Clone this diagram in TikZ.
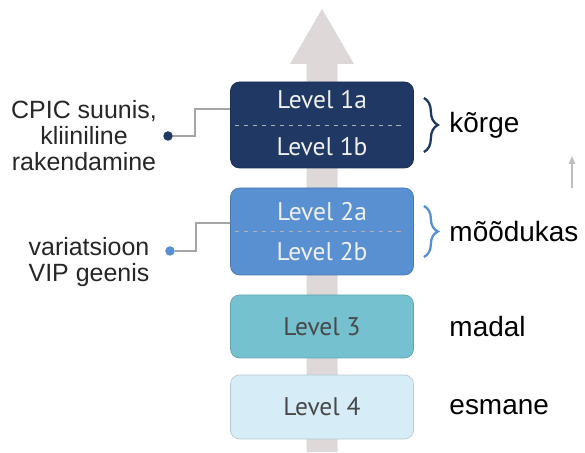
\documentclass[tikz,border=0pt]{standalone}
\usepackage{fontspec}
\setmainfont{Liberation Sans}
\newfontfamily\levelfont{PT Sans}
\usetikzlibrary{arrows.meta,positioning,decorations.pathreplacing}
\definecolor{levelnavy}{RGB}{31,56,100}
\definecolor{levelblue}{RGB}{88,144,210}
\definecolor{levelteal}{RGB}{117,193,207}
\definecolor{levellight}{RGB}{214,236,247}
\definecolor{arrowgray}{RGB}{222,216,217}
\definecolor{conngray}{RGB}{165,165,165}
\definecolor{textgray}{RGB}{72,72,72}

\begin{document}
\begin{tikzpicture}[>=Stealth,
  levelbox/.style={rectangle, rounded corners=0.18cm, minimum width=3.66cm, inner sep=0pt},
  leveltext/.style={font=\levelfont\fontsize{14.5}{17}\selectfont, inner sep=1pt},
  sidelabel/.style={align=center, font=\fontsize{14.2}{14.8}\selectfont, text=black!85},
  ranklabel/.style={font=\fontsize{15.9}{19}\selectfont, inner sep=3pt},
  dotnode/.style={circle, inner sep=0pt, minimum size=0.19cm},
  conn/.style={conngray, line width=0.8pt},
  rankbrace/.style={decorate, decoration={brace, amplitude=0.28cm}, line width=1.3pt},
  splitline/.style={white!70!black, line width=0.5pt, dash pattern=on 2.3pt off 2.8pt}]
\useasboundingbox (0,0) rectangle (11.7,9.04);
% background arrow
\fill[arrowgray] (6.13,0) -- (6.13,7.76) -- (5.8,7.76) -- (6.44,8.86)
   -- (7.08,7.76) -- (6.75,7.76) -- (6.75,0) -- cycle;
% level boxes
\foreach \nm/\y/\h/\col in {lvlone/6.54/1.72/levelnavy, lvltwo/4.41/1.74/levelblue,
    lvlthree/2.51/1.26/levelteal, lvlfour/0.90/1.28/levellight}{
  \node[levelbox, fill=\col, draw=\col!85!black, minimum height=\h cm] (\nm) at (6.44,\y) {};
}
\draw[splitline] ([xshift=0.1cm]lvlone.west) -- ([xshift=-0.2cm]lvlone.east);
\draw[splitline] ([xshift=0.1cm]lvltwo.west) -- ([xshift=-0.2cm]lvltwo.east);
\node[leveltext, text=white!94!black] (txtonea) at (6.44,7.05) {Level 1a};
\node[leveltext, text=white!94!black] (txtoneb) at (6.44,6.11) {Level 1b};
\node[leveltext, text=white!94!black] (txttwoa) at (6.44,4.80) {Level 2a};
\node[leveltext, text=white!94!black] (txttwob) at (6.44,4.00) {Level 2b};
\node[leveltext, text=textgray] (txtthree) at (lvlthree.center) {Level 3};
\node[leveltext, text=textgray] (txtfour) at (lvlfour.center) {Level 4};
% left labels with dots
\node[sidelabel] (cpiclabel) at (1.68,6.32) {CPIC suunis,\\kliiniline\\rakendamine};
\node[sidelabel] (viplabel) at (1.78,3.80) {variatsioon\\VIP geenis};
\node[dotnode, fill=levelnavy] (dotone) at (3.36,6.32) {};
\node[dotnode, fill=levelblue] (dottwo) at (3.40,4.02) {};
\draw[conn] (dotone) -- (3.90,6.32) |- ([yshift=0.32cm]lvlone.west);
\draw[conn] (dottwo) -- (3.92,4.02) |- ([yshift=0.17cm]lvltwo.west);
% braces and rank labels
\draw[rankbrace, levelnavy] ([xshift=0.2cm,yshift=0.54cm]lvlone.east) -- ([xshift=0.2cm,yshift=-0.54cm]lvlone.east);
\draw[rankbrace, levelblue] ([xshift=0.2cm,yshift=0.51cm]lvltwo.east) -- ([xshift=0.2cm,yshift=-0.51cm]lvltwo.east);
\foreach \nm/\lab in {lvlone/kõrge, lvltwo/mõõdukas, lvlthree/madal, lvlfour/esmane}{
  \node[ranklabel, right=0.6cm of \nm] (rank\nm) {\lab};
}
% small arrow on the right
\coordinate (upfrom) at (11.44,5.28);
\coordinate (upto) at (11.44,5.92);
\draw[-{Triangle[length=0.16cm,width=0.13cm]}, black!25, line width=0.9pt] (upfrom) -- (upto);
\end{tikzpicture}
\end{document}
